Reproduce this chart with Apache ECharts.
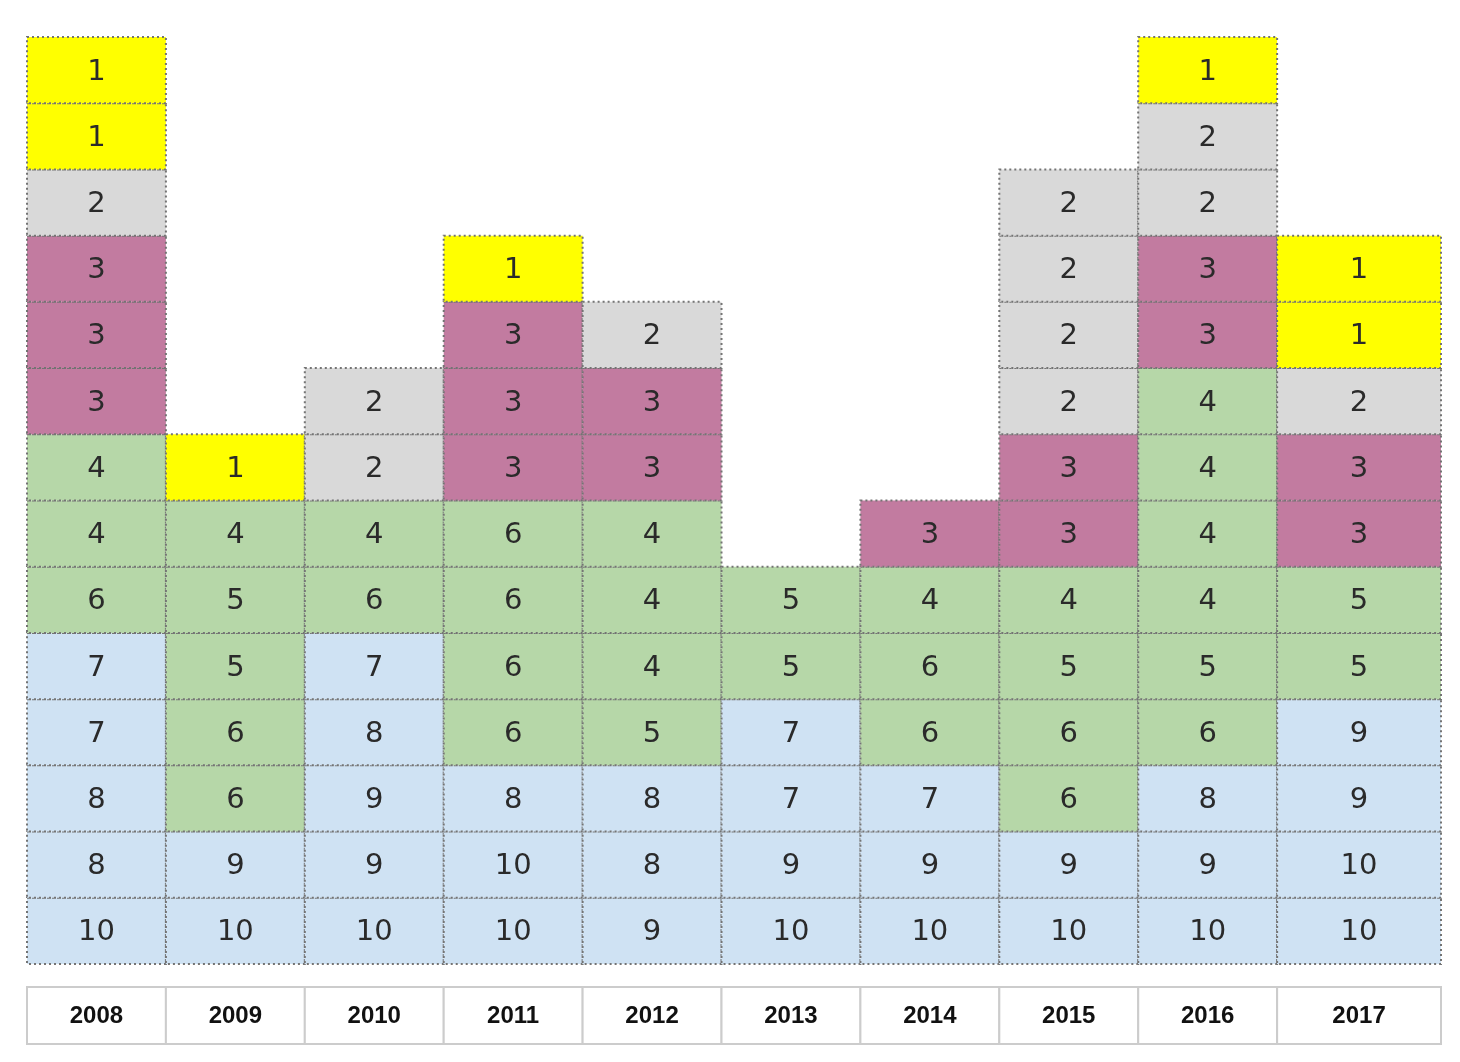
<!DOCTYPE html>
<html>
<head>
<meta charset="utf-8">
<script src="https://cdn.jsdelivr.net/npm/echarts@6/dist/echarts.min.js"></script>
<style>
  html, body { margin: 0; padding: 0; background: #ffffff; }
  #chart { width: 1460px; height: 1062px; }
</style>
</head>
<body>
<div id="chart"></div>
<script>
// ---- Data (each column listed from bottom cell to top cell) ----
const years = ['2008', '2009', '2010', '2011', '2012', '2013', '2014', '2015', '2016', '2017'];
const cells2008 = [10, 8, 8, 7, 7, 6, 4, 4, 3, 3, 3, 2, 1, 1];
const cells2009 = [10, 9, 6, 6, 5, 5, 4, 1];
const cells2010 = [10, 9, 9, 8, 7, 6, 4, 2, 2];
const cells2011 = [10, 10, 8, 6, 6, 6, 6, 3, 3, 3, 1];
const cells2012 = [9, 8, 8, 5, 4, 4, 4, 3, 3, 2];
const cells2013 = [10, 9, 7, 7, 5, 5];
const cells2014 = [10, 9, 7, 6, 6, 4, 3];
const cells2015 = [10, 9, 6, 6, 5, 4, 3, 3, 2, 2, 2, 2];
const cells2016 = [10, 9, 8, 6, 5, 4, 4, 4, 4, 3, 3, 2, 2, 1];
const cells2017 = [10, 10, 9, 9, 5, 5, 3, 3, 2, 1, 1];
const columns = [cells2008, cells2009, cells2010, cells2011, cells2012,
                 cells2013, cells2014, cells2015, cells2016, cells2017];

// ---- Styles ----
function cellColor(v) {
  if (v <= 1) return '#ffff00';
  if (v === 2) return '#d9d9d9';
  if (v === 3) return '#c27ba0';
  if (v <= 6) return '#b6d7a8';
  return '#cfe2f3';
}
const lastColumnExtra = 164 / 139;           // the last column is drawn wider
const xMax = years.length - 1 + lastColumnExtra;
const maxRows = Math.max.apply(null, columns.map(c => c.length));

const cellData = [];
columns.forEach((col, i) => col.forEach((v, j) => cellData.push([i, j, v])));
const yearData = years.map((y, i) => [i, 0, y]);

function colRight(i) { return i === years.length - 1 ? xMax : i + 1; }

const chart = echarts.init(document.getElementById('chart'));
chart.setOption({
  animation: false,
  backgroundColor: '#ffffff',
  grid: [
    { left: 27, right: 19, top: 37, bottom: 98 },
    { left: 27, right: 19, top: 987, height: 57 }
  ],
  xAxis: [
    { type: 'value', gridIndex: 0, min: 0, max: xMax, show: false },
    { type: 'value', gridIndex: 1, min: 0, max: xMax, show: false }
  ],
  yAxis: [
    { type: 'value', gridIndex: 0, min: 0, max: maxRows, show: false },
    { type: 'value', gridIndex: 1, min: 0, max: 1, show: false }
  ],
  series: [
    {
      type: 'custom',
      xAxisIndex: 0, yAxisIndex: 0,
      data: cellData,
      renderItem: function (params, api) {
        const i = api.value(0), j = api.value(1), v = api.value(2);
        const p0 = api.coord([i, j + 1]);
        const p1 = api.coord([colRight(i), j]);
        const x = p0[0], y = p0[1], w = p1[0] - p0[0], h = p1[1] - p0[1];
        return {
          type: 'group',
          children: [
            { type: 'rect', shape: { x: x, y: y, width: w, height: h },
              style: { fill: cellColor(v), stroke: '#747474', lineWidth: 2, lineDash: [2, 3] } },
            { type: 'text', x: x + w / 2, y: y + h / 2 + 2,
              style: { text: String(v), fill: '#2a2a2a', fontFamily: 'DejaVu Sans', fontSize: 29,
                       align: 'center', verticalAlign: 'middle' } }
          ]
        };
      }
    },
    {
      type: 'custom',
      xAxisIndex: 1, yAxisIndex: 1,
      data: yearData,
      renderItem: function (params, api) {
        const i = api.value(0);
        const p0 = api.coord([i, 1]);
        const p1 = api.coord([colRight(i), 0]);
        const x = p0[0], y = p0[1], w = p1[0] - p0[0], h = p1[1] - p0[1];
        return {
          type: 'group',
          children: [
            { type: 'rect', shape: { x: x, y: y, width: w, height: h },
              style: { fill: '#ffffff', stroke: '#cccccc', lineWidth: 2 } },
            { type: 'text', x: x + w / 2, y: y + h / 2 + 1,
              style: { text: years[i], fill: '#111111', fontFamily: 'Liberation Sans', fontWeight: 'bold', fontSize: 24,
                       align: 'center', verticalAlign: 'middle' } }
          ]
        };
      }
    }
  ]
});
</script>
</body>
</html>
